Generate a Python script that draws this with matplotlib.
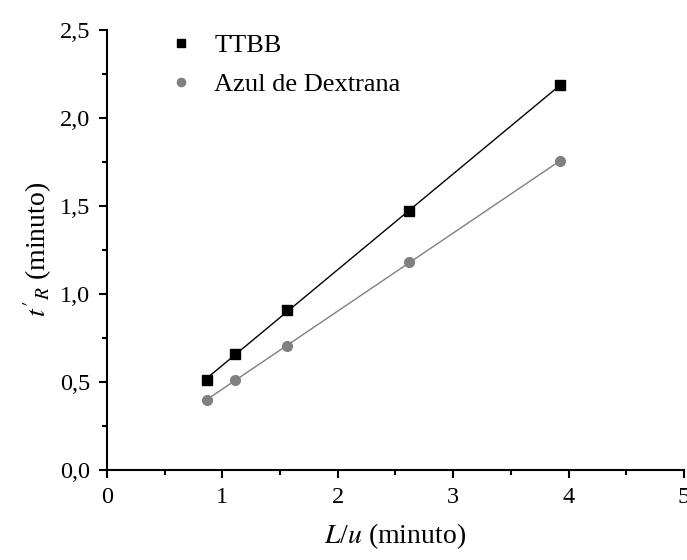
import matplotlib
matplotlib.use("Agg")
import matplotlib.pyplot as plt
from matplotlib.ticker import MultipleLocator, FuncFormatter
import numpy as np

plt.rcParams['font.family'] = ['Liberation Serif', 'DejaVu Serif']
plt.rcParams['mathtext.fontset'] = 'stix'

# data
x = [0.87, 1.11, 1.56, 2.62, 3.93]
ttbb = [0.51, 0.66, 0.91, 1.47, 2.185]
azul = [0.40, 0.51, 0.705, 1.18, 1.755]

fig = plt.figure(figsize=(6.87, 5.6), dpi=100)
ax = fig.add_axes([0.1557, 0.1607, 0.8399, 0.7866])

xs = np.array([min(x), max(x)])
p1 = np.polyfit(x, ttbb, 1)
p2 = np.polyfit(x, azul, 1)
ax.plot(xs, np.polyval(p1, xs), color='black', lw=1.0)
ax.plot(xs, np.polyval(p2, xs), color='#808080', lw=1.0)
ax.plot(x, ttbb, 's', color='black', ms=7, label='TTBB', ls='none')
ax.plot(x, azul, 'o', color='#808080', ms=7, label='Azul de Dextrana', ls='none')

ax.set_xlim(0, 5)
ax.set_ylim(0, 2.5)
ax.xaxis.set_major_locator(MultipleLocator(1))
ax.xaxis.set_minor_locator(MultipleLocator(0.5))
ax.yaxis.set_major_locator(MultipleLocator(0.5))
ax.yaxis.set_minor_locator(MultipleLocator(0.25))
ax.yaxis.set_major_formatter(FuncFormatter(lambda v, p: ('%.1f' % v).replace('.', ',')))
ax.xaxis.set_major_formatter(FuncFormatter(lambda v, p: '%d' % v))

for s in ['top', 'right']:
    ax.spines[s].set_visible(False)
for s in ['left', 'bottom']:
    ax.spines[s].set_linewidth(1.5)
ax.tick_params(which='major', direction='out', length=6, width=1.5, labelsize=17.5, pad=6)
ax.tick_params(which='minor', direction='out', length=3.5, width=1.5)

ax.set_xlabel(r"$L$/$u$ (minuto)", fontsize=20, labelpad=10)
ax.set_ylabel(r"$t'_R$ (minuto)", fontsize=20, labelpad=4)

ax.legend(loc='upper left', bbox_to_anchor=(0.065, 1.045), frameon=False, fontsize=19,
          handlelength=1.0, handletextpad=0.75, labelspacing=0.6, markerscale=0.85)

fig.savefig('out.png', dpi=100)
